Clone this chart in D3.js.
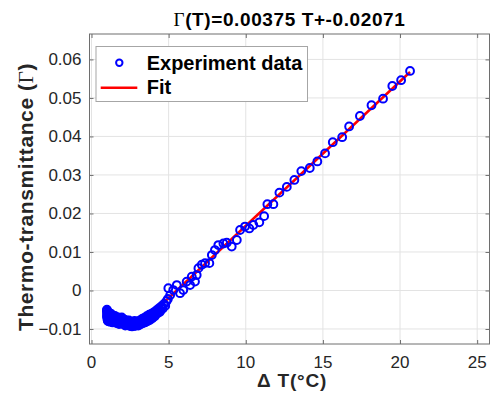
<!DOCTYPE html>
<html>
<head>
<meta charset="utf-8">
<script src="https://cdn.jsdelivr.net/npm/d3@7"></script>
<style>
  body { margin: 0; background: #fff; }
  text { font-family: "Liberation Sans", Arial, sans-serif; }
</style>
</head>
<body>
<div id="chart"></div>
<script>
// measured temperature rise and thermo-transmittance
const expX = [1.00, 1.00, 1.01, 1.02, 1.03, 1.05, 1.06, 1.08, 1.10, 1.12, 1.15, 1.18, 1.21, 1.24, 1.27,
  1.30, 1.34, 1.38, 1.42, 1.46, 1.50, 1.55, 1.60, 1.65, 1.70, 1.75, 1.80, 1.86, 1.92, 1.98, 2.04,
  2.10, 2.16, 2.22, 2.28, 2.34, 2.40, 2.46, 2.52, 2.58, 2.64, 2.70, 2.76, 2.82, 2.88, 2.94, 3.00,
  3.07, 3.14, 3.21, 3.28, 3.35, 3.42, 3.50, 3.58, 3.66, 3.74, 3.82, 3.90, 3.98, 4.06, 4.14, 4.22,
  4.30, 4.38, 4.46, 4.54, 4.62, 4.70, 4.78, 4.86,
  4.95, 4.98, 5.10, 5.30, 5.53, 5.74, 5.95, 6.17, 6.39, 6.50, 6.71, 6.82,
  6.93, 7.15, 7.36, 7.64, 7.80, 8.00, 8.22, 8.55, 8.77, 9.09, 9.42, 9.63, 9.95, 10.23, 10.49, 10.88,
  11.19, 11.40, 11.79, 12.18, 12.66, 13.15, 13.60, 14.15, 14.64, 15.14, 15.64, 16.25, 16.70, 17.40,
  18.15, 18.90, 19.50, 20.07, 20.65,
  1.00, 1.02, 1.04, 1.07, 1.09, 1.13, 1.16, 1.20, 1.25, 1.31, 1.36, 1.44, 1.52, 1.58, 1.63, 1.72,
  1.78, 1.84, 1.90, 1.96, 2.07, 2.13, 2.19, 2.31, 2.37, 2.43, 2.49, 2.55, 2.61, 2.67, 2.73, 2.79,
  2.85, 2.97, 3.04, 3.11, 3.18, 3.25, 3.32, 3.46, 3.54, 3.62, 3.70, 3.78, 3.86, 3.94, 4.02, 4.10,
  4.18, 4.26, 4.34, 4.42, 4.50];
const expY = [-0.0050, -0.0066, -0.0055, -0.0072, -0.0060, -0.0078, -0.0064, -0.0070, -0.0057, -0.0075,
  -0.0062, -0.0079, -0.0068, -0.0073, -0.0064, -0.0080, -0.0070, -0.0076, -0.0066, -0.0082,
  -0.0072, -0.0078, -0.0069, -0.0084, -0.0074, -0.0080, -0.0071, -0.0086, -0.0077, -0.0083,
  -0.0074, -0.0088, -0.0080, -0.0085, -0.0078, -0.0090, -0.0083, -0.0092, -0.0085, -0.0093,
  -0.0087, -0.0090, -0.0082, -0.0091, -0.0085, -0.0088, -0.0080, -0.0087, -0.0078, -0.0084,
  -0.0074, -0.0081, -0.0071, -0.0078, -0.0067, -0.0074, -0.0063, -0.0070, -0.0060, -0.0066,
  -0.0056, -0.0062, -0.0051, -0.0057, -0.0046, -0.0053, -0.0041, -0.0047, -0.0035, -0.0040, -0.0028,
  -0.0022, 0.0006, -0.0012, 0.0001, 0.0014, -0.0007, 0.0001, 0.0023, 0.0014, 0.0036, 0.0023, 0.0040,
  0.0058, 0.0067, 0.0071, 0.0071, 0.0092, 0.0105, 0.0118, 0.0122, 0.0124, 0.0114, 0.0131, 0.0157,
  0.0166, 0.0161, 0.0170, 0.0177, 0.0193, 0.0224, 0.0224, 0.0254, 0.0269, 0.0287, 0.0310, 0.0318,
  0.0335, 0.0356, 0.0385, 0.0398, 0.0426, 0.0453, 0.0481, 0.0498, 0.0531, 0.0546, 0.0570,
  -0.0052, -0.0061, -0.0069, -0.0076, -0.0080, -0.0068, -0.0073, -0.0081, -0.0060, -0.0067,
  -0.0083, -0.0072, -0.0066, -0.0084, -0.0077, -0.0070, -0.0087, -0.0075, -0.0081, -0.0070,
  -0.0081, -0.0076, -0.0091, -0.0082, -0.0086, -0.0078, -0.0090, -0.0082, -0.0089, -0.0093,
  -0.0086, -0.0079, -0.0092, -0.0083, -0.0091, -0.0082, -0.0088, -0.0077, -0.0085, -0.0083,
  -0.0073, -0.0080, -0.0069, -0.0077, -0.0065, -0.0072, -0.0062, -0.0067, -0.0058, -0.0060,
  -0.0050, -0.0056, -0.0045];

// linear fit end points
const fitX = [4.5, 20.65];
const fitY = [-0.00384, 0.05673];

const xTicks = [0, 5, 10, 15, 20, 25];
const yTicks = [-0.01, 0, 0.01, 0.02, 0.03, 0.04, 0.05, 0.06];

const width = 492, height = 401;
const margin = { top: 34, right: 2.5, bottom: 57, left: 89.5 };

const svg = d3.select("#chart").append("svg")
  .attr("width", width)
  .attr("height", height);

const x = d3.scaleLinear()
  .domain([-0.13, 25.8])
  .range([margin.left, width - margin.right]);

const y = d3.scaleLinear()
  .domain([-0.0139, 0.0666])
  .range([height - margin.bottom, margin.top]);

const x0 = x.range()[0], x1 = x.range()[1];
const y0 = y.range()[0], y1 = y.range()[1];

// grid
svg.append("g").selectAll("line").data(xTicks).join("line")
  .attr("x1", d => x(d)).attr("x2", d => x(d))
  .attr("y1", y1).attr("y2", y0)
  .attr("stroke", "#e3e3e3").attr("stroke-width", 1);
svg.append("g").selectAll("line").data(yTicks).join("line")
  .attr("x1", x0).attr("x2", x1)
  .attr("y1", d => y(d)).attr("y2", d => y(d))
  .attr("stroke", "#e3e3e3").attr("stroke-width", 1);

// axes, ticks pointing inward, box on all sides
const tickLen = 4;
svg.append("g").attr("transform", `translate(0,${y0})`)
  .call(d3.axisTop(x).tickValues(xTicks).tickSize(tickLen).tickFormat(""));
svg.append("g").attr("transform", `translate(0,${y1})`)
  .call(d3.axisBottom(x).tickValues(xTicks).tickSize(tickLen).tickFormat(""));
svg.append("g").attr("transform", `translate(${x0},0)`)
  .call(d3.axisRight(y).tickValues(yTicks).tickSize(tickLen).tickFormat(""));
svg.append("g").attr("transform", `translate(${x1},0)`)
  .call(d3.axisLeft(y).tickValues(yTicks).tickSize(tickLen).tickFormat(""));
svg.selectAll(".domain").remove();
svg.selectAll(".tick line").attr("stroke", "#6e6e6e");

svg.append("rect")
  .attr("x", x0).attr("y", y1)
  .attr("width", x1 - x0).attr("height", y0 - y1)
  .attr("fill", "none").attr("stroke", "#6e6e6e").attr("stroke-width", 1);

// tick labels
svg.append("g").selectAll("text").data(xTicks).join("text")
  .attr("x", d => x(d)).attr("y", y0 + 24)
  .attr("text-anchor", "middle")
  .attr("font-size", 17).attr("fill", "#262626")
  .text(d => d);
svg.append("g").selectAll("text").data(yTicks).join("text")
  .attr("x", x0 - 8).attr("y", d => y(d) + 6)
  .attr("text-anchor", "end")
  .attr("font-size", 17).attr("fill", "#262626")
  .text(d => d3.format("")(+d.toFixed(2)));

// fit line
svg.append("path")
  .datum(fitX.map((d, i) => [d, fitY[i]]))
  .attr("d", d3.line().x(d => x(d[0])).y(d => y(d[1])))
  .attr("fill", "none").attr("stroke", "#ff0000").attr("stroke-width", 2.5);

// experiment points
svg.append("g").selectAll("circle").data(expX.map((d, i) => [d, expY[i]])).join("circle")
  .attr("cx", d => x(d[0])).attr("cy", d => y(d[1]))
  .attr("r", 3.9)
  .attr("fill", "none").attr("stroke", "#0000ff").attr("stroke-width", 2);

// title
const title = svg.append("text")
  .attr("x", (x0 + x1) / 2).attr("y", 26)
  .attr("text-anchor", "middle")
  .attr("font-size", 19).attr("font-weight", "bold").attr("fill", "#000")
  .attr("letter-spacing", 0.6);
title.append("tspan").attr("font-family", "Liberation Serif, serif").attr("font-weight", "normal").text("Γ");
title.append("tspan").text("(T)=0.00375 T+-0.02071");

// x label
svg.append("text")
  .attr("x", 292).attr("y", 387)
  .attr("text-anchor", "middle")
  .attr("font-size", 19).attr("font-weight", "bold").attr("fill", "#262626")
  .attr("letter-spacing", 0.8)
  .text("Δ T(°C)");

// y label
const yl = svg.append("text")
  .attr("transform", `translate(33,197) rotate(-90)`)
  .attr("text-anchor", "middle")
  .attr("font-size", 21).attr("font-weight", "bold").attr("fill", "#262626")
  .attr("letter-spacing", 0.6);
yl.append("tspan").text("Thermo-transmittance (");
yl.append("tspan").attr("font-family", "Liberation Serif, serif").attr("font-weight", "normal").text("Γ");
yl.append("tspan").text(")");

// legend
const lg = svg.append("g");
lg.append("rect")
  .attr("x", 96).attr("y", 46.5).attr("width", 211.5).attr("height", 55)
  .attr("fill", "#fff").attr("stroke", "#a6a6a6").attr("stroke-width", 1);
lg.append("circle")
  .attr("cx", 119.3).attr("cy", 62.7).attr("r", 3.2)
  .attr("fill", "none").attr("stroke", "#0000ff").attr("stroke-width", 2);
lg.append("line")
  .attr("x1", 100.7).attr("x2", 137.3).attr("y1", 87.7).attr("y2", 87.7)
  .attr("stroke", "#ff0000").attr("stroke-width", 2.5);
lg.append("text").attr("x", 146.7).attr("y", 69.5)
  .attr("font-size", 20).attr("font-weight", "bold").attr("fill", "#000")
  .text("Experiment data");
lg.append("text").attr("x", 146.7).attr("y", 93.5)
  .attr("font-size", 20).attr("font-weight", "bold").attr("fill", "#000")
  .text("Fit");
</script>
</body>
</html>
